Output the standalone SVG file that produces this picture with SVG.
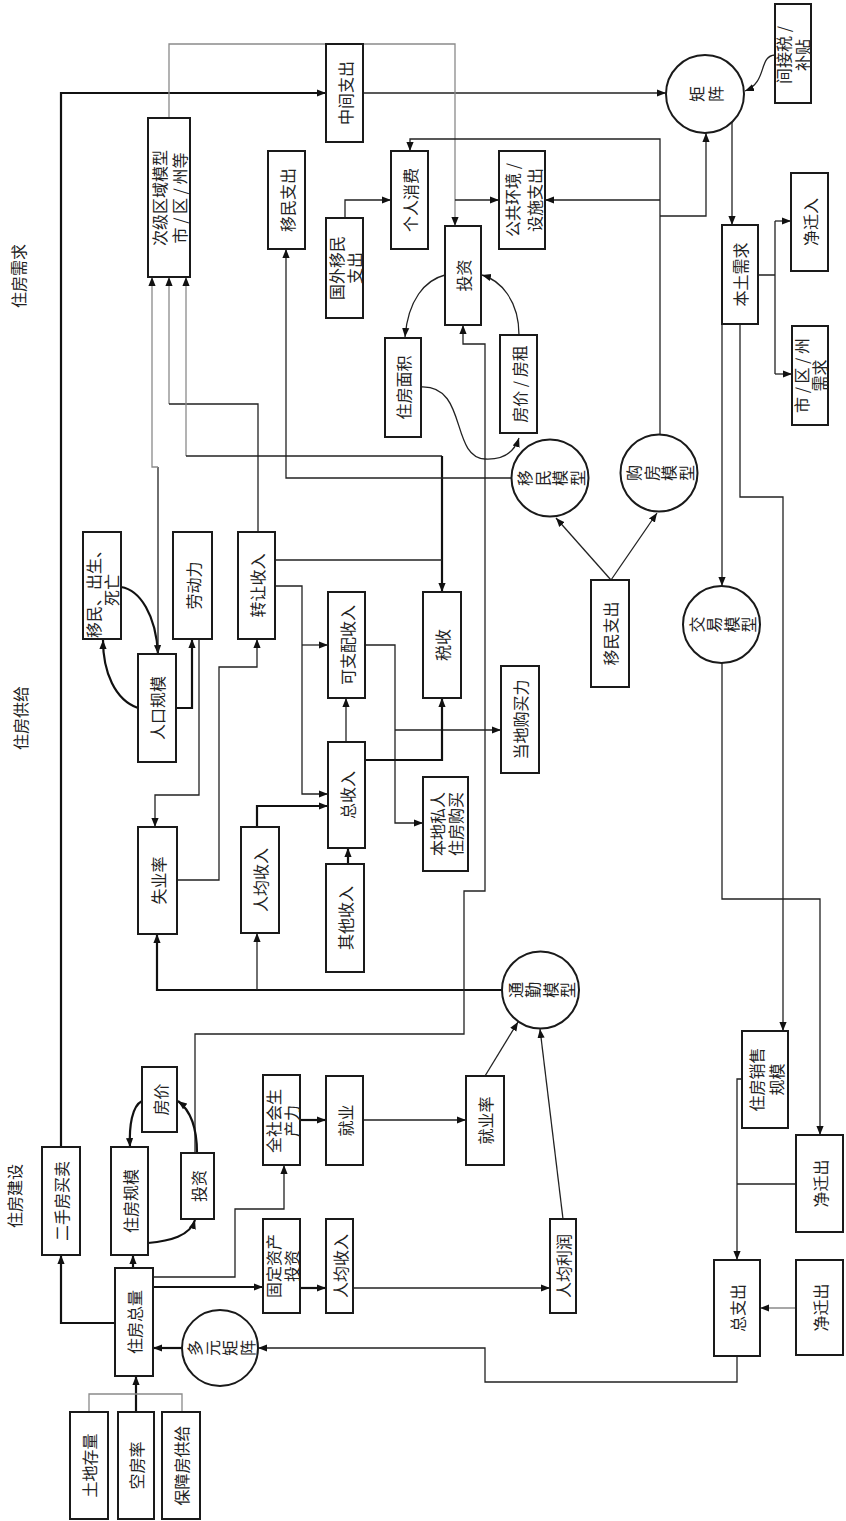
<svg xmlns="http://www.w3.org/2000/svg" width="846" height="1521" viewBox="0 0 846 1521">
<style>
.b{fill:#fff;stroke:#1a1a1a;stroke-width:2}
.c{fill:#fff;stroke:#1a1a1a;stroke-width:2}
.t{font-family:"Noto Sans CJK SC","Noto Sans",sans-serif;font-size:16px;fill:#222;text-anchor:middle;dominant-baseline:central}
.l{fill:none;stroke:#222;stroke-width:1.3}
.k{fill:none;stroke:#111;stroke-width:2.2}
.g{fill:none;stroke:#8a8a8a;stroke-width:1.3}
</style>
<defs>
<marker id="a" viewBox="0 0 10 10" refX="10" refY="5" markerWidth="9" markerHeight="9" orient="auto" markerUnits="userSpaceOnUse"><path d="M0,1 L10,5 L0,9 z" fill="#111"/></marker>
</defs>
<rect width="846" height="1521" fill="#fff"/>

<g id="labels">
<text class="t" x="18" y="276" transform="rotate(-90 18 276)">住房需求</text>
<text class="t" x="20" y="718" transform="rotate(-90 20 718)">住房供给</text>
<text class="t" x="14" y="1196" transform="rotate(-90 14 1196)">住房建设</text>
</g>

<g id="connectors">
<path class="k" d="M61,1147 V93 H326" marker-end="url(#a)"/>
<path class="l" d="M363,93 H666" marker-end="url(#a)"/>
<path class="g" d="M169,118 V44 H455 V226" marker-end="url(#a)"/>
<path class="l" d="M455,200 H499" marker-end="url(#a)"/>
<path class="l" d="M345,218 V200 H391" marker-end="url(#a)"/>
<path class="l" d="M660,434 V139 H410 V151" marker-end="url(#a)"/>
<path class="l" d="M660,200 H545" marker-end="url(#a)"/>
<path class="l" d="M660,216 H706 V133" marker-end="url(#a)"/>
<path class="l" d="M732,122 V225" marker-end="url(#a)"/>
<path class="l" d="M775,55 C758,56 768,82 745,91" marker-end="url(#a)"/>
<path class="l" d="M758,275 H775 M775,221 V374"/>
<path class="l" d="M775,221 H791" marker-end="url(#a)"/>
<path class="l" d="M775,374 H792" marker-end="url(#a)"/>
<path class="l" d="M722,324 V586" marker-end="url(#a)"/>
<path class="l" d="M740,324 V497 H783 V1031" marker-end="url(#a)"/>
<path class="l" d="M722,663 V899 H820 V1135" marker-end="url(#a)"/>
<path class="l" d="M742,1079 H737 V1260" marker-end="url(#a)"/>
<path class="l" d="M796,1184 H737"/>
<path class="g" d="M796,1308 H760" marker-end="url(#a)"/>
<path class="l" d="M737,1356 V1382 H485 V1348 H258" marker-end="url(#a)"/>
<path class="k" d="M182,1348 H153" marker-end="url(#a)"/>
<path class="k" d="M136,1412 V1376" marker-end="url(#a)"/>
<path class="g" d="M89,1412 V1394 H182 V1412"/>
<path class="k" d="M115,1323 H61 V1255" marker-end="url(#a)"/>
<path class="k" d="M133,1268 V1255" marker-end="url(#a)"/>
<path class="l" d="M153,1277 H235 V1209 H284 V1165" marker-end="url(#a)"/>
<path class="k" d="M153,1287 H263" marker-end="url(#a)"/>
<path class="k" d="M300,1288 H326" marker-end="url(#a)"/>
<path class="l" d="M353,1288 H550" marker-end="url(#a)"/>
<path class="l" d="M563,1219 L540,1029" marker-end="url(#a)"/>
<path class="l" d="M485,1076 L518,1022" marker-end="url(#a)"/>
<path class="k" d="M300,1120 H326" marker-end="url(#a)"/>
<path class="l" d="M363,1120 H466" marker-end="url(#a)"/>
<path class="k" d="M502,990 H157 V934" marker-end="url(#a)"/>
<path class="l" d="M257,990 V933" marker-end="url(#a)"/>
<path class="l" d="M195,1153 V1034 H464 V891 H485 V344 H463 V325" marker-end="url(#a)"/>
<path class="k" d="M197,1153 C197,1126 190,1110 178,1101" marker-end="url(#a)"/>
<path class="k" d="M142,1101 C132,1106 129,1126 130,1147" marker-end="url(#a)"/>
<path class="k" d="M148,1243 C170,1241 190,1236 195,1220" marker-end="url(#a)"/>
<path class="l" d="M177,880 H219 V667 H257 V639" marker-end="url(#a)"/>
<path class="l" d="M199,639 V795 H155 V827" marker-end="url(#a)"/>
<path class="k" d="M176,708 H192 V639" marker-end="url(#a)"/>
<path class="k" d="M138,708 C115,700 103,672 103,640" marker-end="url(#a)"/>
<path class="k" d="M121,587 C140,590 156,615 158,654" marker-end="url(#a)"/>
<path class="l" d="M158,654 V467"/>
<path class="g" d="M158,467 H152 V277" marker-end="url(#a)"/>
<path class="g" d="M169,404 V277" marker-end="url(#a)"/>
<path class="l" d="M258,532 V404 H169"/>
<path class="g" d="M186,456 V277" marker-end="url(#a)"/>
<path class="l" d="M186,456 H442"/>
<path class="k" d="M442,456 V592" marker-end="url(#a)"/>
<path class="l" d="M275,560 H442"/>
<path class="l" d="M275,586 H302 V794 H328" marker-end="url(#a)"/>
<path class="l" d="M302,645 H328" marker-end="url(#a)"/>
<path class="k" d="M257,827 V806 H328" marker-end="url(#a)"/>
<path class="k" d="M348,864 V848" marker-end="url(#a)"/>
<path class="l" d="M346,742 V698" marker-end="url(#a)"/>
<path class="l" d="M365,645 H395 V823 H423" marker-end="url(#a)"/>
<path class="l" d="M395,730 H501" marker-end="url(#a)"/>
<path class="k" d="M365,760 H442 V698" marker-end="url(#a)"/>
<path class="l" d="M512,478 H286 V249" marker-end="url(#a)"/>
<path class="l" d="M611,580 L657,513" marker-end="url(#a)"/>
<path class="l" d="M611,580 L556,518" marker-end="url(#a)"/>
<path class="l" d="M445,275 C425,280 408,300 405,337" marker-end="url(#a)"/>
<path class="l" d="M519,335 C519,300 500,280 482,275" marker-end="url(#a)"/>
<path class="l" d="M421,387 C468,385 450,457 485,459 C505,460 515,450 519,438" marker-end="url(#a)"/>
</g>

<g id="n-ciji"><rect class="b" x="148" y="118" width="42" height="159"/>
<text class="t" x="159" y="198" transform="rotate(-90 159 198)">次级区域模型</text>
<text class="t" x="179" y="198" transform="rotate(-90 179 198)">市 / 区 / 州等</text></g>
<g id="n-zhongjian"><rect class="b" x="326" y="44" width="37" height="98"/>
<text class="t" x="344.5" y="93" transform="rotate(-90 344.5 93)">中间支出</text></g>
<g id="n-yimin1"><rect class="b" x="268" y="151" width="37" height="98"/>
<text class="t" x="286.5" y="200" transform="rotate(-90 286.5 200)">移民支出</text></g>
<g id="n-geren"><rect class="b" x="391" y="151" width="37" height="98"/>
<text class="t" x="409.5" y="200" transform="rotate(-90 409.5 200)">个人消费</text></g>
<g id="n-guowai"><rect class="b" x="326" y="218" width="37" height="100"/>
<text class="t" x="336" y="268" transform="rotate(-90 336 268)">国外移民</text>
<text class="t" x="354" y="268" transform="rotate(-90 354 268)">支出</text></g>
<g id="n-touzi1"><rect class="b" x="445" y="226" width="36" height="99"/>
<text class="t" x="463" y="275.5" transform="rotate(-90 463 275.5)">投资</text></g>
<g id="n-gonggong"><rect class="b" x="499" y="151" width="46" height="98"/>
<text class="t" x="512" y="200" transform="rotate(-90 512 200)">公共环境 /</text>
<text class="t" x="534" y="200" transform="rotate(-90 534 200)">设施支出</text></g>
<g id="n-mianji"><rect class="b" x="385" y="338" width="36" height="99"/>
<text class="t" x="403" y="387.5" transform="rotate(-90 403 387.5)">住房面积</text></g>
<g id="n-fangjia1"><rect class="b" x="500" y="335" width="37" height="98"/>
<text class="t" x="518.5" y="384" transform="rotate(-90 518.5 384)">房价 / 房租</text></g>
<g id="n-juzhen"><circle class="c" cx="705" cy="94" r="39"/>
<text class="t" x="696" y="94" transform="rotate(-90 696 94)">矩</text>
<text class="t" x="715" y="94" transform="rotate(-90 715 94)">阵</text></g>
<g id="n-jianjie"><rect class="b" x="775" y="4" width="36" height="99"/>
<text class="t" x="783" y="55" transform="rotate(-90 783 55)">间接税 /</text>
<text class="t" x="802" y="55" transform="rotate(-90 802 55)">补贴</text></g>
<g id="n-bentu"><rect class="b" x="722" y="225" width="36" height="99"/>
<text class="t" x="740" y="274.5" transform="rotate(-90 740 274.5)">本土需求</text></g>
<g id="n-jingqianru"><rect class="b" x="791" y="173" width="37" height="98"/>
<text class="t" x="809.5" y="222" transform="rotate(-90 809.5 222)">净迁入</text></g>
<g id="n-shiqu"><rect class="b" x="792" y="326" width="36" height="99"/>
<text class="t" x="801" y="375.5" transform="rotate(-90 801 375.5)">市 / 区 / 州</text>
<text class="t" x="819" y="375.5" transform="rotate(-90 819 375.5)">需求</text></g>
<g id="n-yiminmoxing"><circle class="c" cx="550" cy="478" r="38.5"/>
<text class="t" x="524" y="478" transform="rotate(-90 524 478)">移</text>
<text class="t" x="541.5" y="478" transform="rotate(-90 541.5 478)">民</text>
<text class="t" x="559" y="478" transform="rotate(-90 559 478)">模</text>
<text class="t" x="576.5" y="478" transform="rotate(-90 576.5 478)">型</text></g>
<g id="n-goufang"><circle class="c" cx="659" cy="473" r="38.5"/>
<text class="t" x="633" y="473" transform="rotate(-90 633 473)">购</text>
<text class="t" x="650.5" y="473" transform="rotate(-90 650.5 473)">房</text>
<text class="t" x="668" y="473" transform="rotate(-90 668 473)">模</text>
<text class="t" x="685.5" y="473" transform="rotate(-90 685.5 473)">型</text></g>
<g id="n-yimin2"><rect class="b" x="591" y="580" width="38" height="107"/>
<text class="t" x="610" y="633.5" transform="rotate(-90 610 633.5)">移民支出</text></g>
<g id="n-jiaoyi"><circle class="c" cx="721.5" cy="624.5" r="38.5"/>
<text class="t" x="695.5" y="624.5" transform="rotate(-90 695.5 624.5)">交</text>
<text class="t" x="713" y="624.5" transform="rotate(-90 713 624.5)">易</text>
<text class="t" x="730.5" y="624.5" transform="rotate(-90 730.5 624.5)">模</text>
<text class="t" x="748" y="624.5" transform="rotate(-90 748 624.5)">型</text></g>
<g id="n-zhuanrang"><rect class="b" x="238" y="532" width="37" height="107"/>
<text class="t" x="256.5" y="585.5" transform="rotate(-90 256.5 585.5)">转让收入</text></g>
<g id="n-laodongli"><rect class="b" x="173" y="532" width="39" height="107"/>
<text class="t" x="192.5" y="585.5" transform="rotate(-90 192.5 585.5)">劳动力</text></g>
<g id="n-yiminchusheng"><rect class="b" x="83" y="532" width="38" height="107"/>
<text class="t" x="93" y="590" transform="rotate(-90 93 590)">移民、出生、</text>
<text class="t" x="111" y="590" transform="rotate(-90 111 590)">死亡</text></g>
<g id="n-renkou"><rect class="b" x="138" y="654" width="38" height="108"/>
<text class="t" x="157" y="708" transform="rotate(-90 157 708)">人口规模</text></g>
<g id="n-shiye"><rect class="b" x="138" y="827" width="39" height="107"/>
<text class="t" x="157.5" y="880.5" transform="rotate(-90 157.5 880.5)">失业率</text></g>
<g id="n-renjun1"><rect class="b" x="241" y="827" width="38" height="106"/>
<text class="t" x="260" y="880" transform="rotate(-90 260 880)">人均收入</text></g>
<g id="n-kezhipei"><rect class="b" x="328" y="592" width="37" height="106"/>
<text class="t" x="346.5" y="645" transform="rotate(-90 346.5 645)">可支配收入</text></g>
<g id="n-zongshouru"><rect class="b" x="328" y="742" width="37" height="106"/>
<text class="t" x="346.5" y="795" transform="rotate(-90 346.5 795)">总收入</text></g>
<g id="n-qita"><rect class="b" x="326" y="864" width="38" height="108"/>
<text class="t" x="345" y="918" transform="rotate(-90 345 918)">其他收入</text></g>
<g id="n-shuishou"><rect class="b" x="423" y="592" width="38" height="106"/>
<text class="t" x="442" y="645" transform="rotate(-90 442 645)">税收</text></g>
<g id="n-goumaili"><rect class="b" x="501" y="666" width="38" height="107"/>
<text class="t" x="520" y="719.5" transform="rotate(-90 520 719.5)">当地购买力</text></g>
<g id="n-bendi"><rect class="b" x="423" y="777" width="45" height="94"/>
<text class="t" x="437" y="824" transform="rotate(-90 437 824)">本地私人</text>
<text class="t" x="455" y="824" transform="rotate(-90 455 824)">住房购买</text></g>
<g id="n-tongqin"><circle class="c" cx="540.5" cy="990" r="38.5"/>
<text class="t" x="514.5" y="990" transform="rotate(-90 514.5 990)">通</text>
<text class="t" x="532" y="990" transform="rotate(-90 532 990)">勤</text>
<text class="t" x="549.5" y="990" transform="rotate(-90 549.5 990)">模</text>
<text class="t" x="567" y="990" transform="rotate(-90 567 990)">型</text></g>
<g id="n-fangjia2"><rect class="b" x="142" y="1067" width="35" height="65"/>
<text class="t" x="159.5" y="1099.5" transform="rotate(-90 159.5 1099.5)">房价</text></g>
<g id="n-quanshehui"><rect class="b" x="263" y="1075" width="37" height="90"/>
<text class="t" x="273" y="1121" transform="rotate(-90 273 1121)">全社会生</text>
<text class="t" x="291" y="1121" transform="rotate(-90 291 1121)">产力</text></g>
<g id="n-jiuye"><rect class="b" x="326" y="1076" width="37" height="89"/>
<text class="t" x="344.5" y="1120.5" transform="rotate(-90 344.5 1120.5)">就业</text></g>
<g id="n-jiuyelv"><rect class="b" x="466" y="1076" width="38" height="89"/>
<text class="t" x="485" y="1120.5" transform="rotate(-90 485 1120.5)">就业率</text></g>
<g id="n-ershou"><rect class="b" x="42" y="1147" width="38" height="108"/>
<text class="t" x="61" y="1201" transform="rotate(-90 61 1201)">二手房买卖</text></g>
<g id="n-guimo"><rect class="b" x="111" y="1147" width="37" height="108"/>
<text class="t" x="129.5" y="1201" transform="rotate(-90 129.5 1201)">住房规模</text></g>
<g id="n-touzi2"><rect class="b" x="181" y="1153" width="33" height="66"/>
<text class="t" x="197.5" y="1186" transform="rotate(-90 197.5 1186)">投资</text></g>
<g id="n-zongliang"><rect class="b" x="115" y="1268" width="38" height="108"/>
<text class="t" x="134" y="1322" transform="rotate(-90 134 1322)">住房总量</text></g>
<g id="n-guding"><rect class="b" x="263" y="1219" width="37" height="94"/>
<text class="t" x="273" y="1266" transform="rotate(-90 273 1266)">固定资产</text>
<text class="t" x="291" y="1266" transform="rotate(-90 291 1266)">投资</text></g>
<g id="n-renjun2"><rect class="b" x="326" y="1219" width="27" height="94"/>
<text class="t" x="339.5" y="1266" transform="rotate(-90 339.5 1266)">人均收入</text></g>
<g id="n-lirun"><rect class="b" x="550" y="1219" width="26" height="94"/>
<text class="t" x="563" y="1266" transform="rotate(-90 563 1266)">人均利润</text></g>
<g id="n-duoyuan"><circle class="c" cx="220" cy="1348" r="38"/>
<text class="t" x="194" y="1348" transform="rotate(-90 194 1348)">多</text>
<text class="t" x="211.5" y="1348" transform="rotate(-90 211.5 1348)">元</text>
<text class="t" x="229" y="1348" transform="rotate(-90 229 1348)">矩</text>
<text class="t" x="246.5" y="1348" transform="rotate(-90 246.5 1348)">阵</text></g>
<g id="n-tudi"><rect class="b" x="70" y="1412" width="38" height="107"/>
<text class="t" x="89" y="1465.5" transform="rotate(-90 89 1465.5)">土地存量</text></g>
<g id="n-kongfang"><rect class="b" x="118" y="1412" width="36" height="107"/>
<text class="t" x="136" y="1465.5" transform="rotate(-90 136 1465.5)">空房率</text></g>
<g id="n-baozhang"><rect class="b" x="162" y="1412" width="38" height="107"/>
<text class="t" x="181" y="1465.5" transform="rotate(-90 181 1465.5)">保障房供给</text></g>
<g id="n-xiaoshou"><rect class="b" x="742" y="1031" width="46" height="97"/>
<text class="t" x="756" y="1079.5" transform="rotate(-90 756 1079.5)">住房销售</text>
<text class="t" x="776" y="1079.5" transform="rotate(-90 776 1079.5)">规模</text></g>
<g id="n-jingqianchu1"><rect class="b" x="796" y="1135" width="47" height="97"/>
<text class="t" x="819.5" y="1183.5" transform="rotate(-90 819.5 1183.5)">净迁出</text></g>
<g id="n-zongzhichu"><rect class="b" x="714" y="1260" width="46" height="96"/>
<text class="t" x="737" y="1308" transform="rotate(-90 737 1308)">总支出</text></g>
<g id="n-jingqianchu2"><rect class="b" x="796" y="1260" width="47" height="95"/>
<text class="t" x="819.5" y="1307.5" transform="rotate(-90 819.5 1307.5)">净迁出</text></g>
</svg>
